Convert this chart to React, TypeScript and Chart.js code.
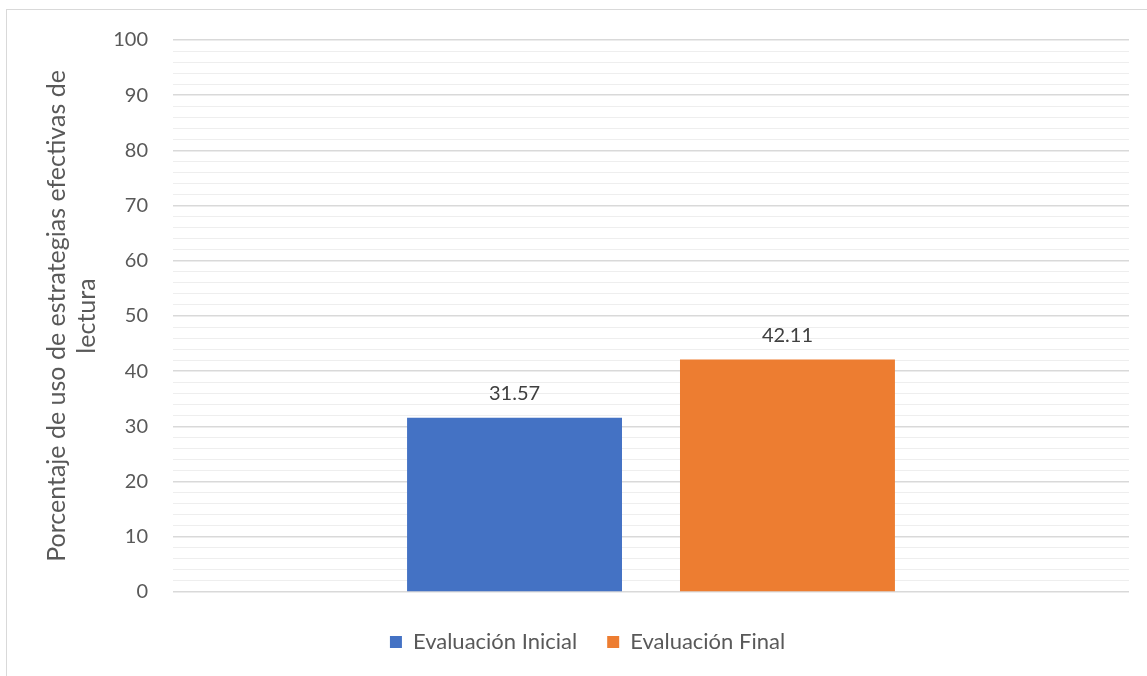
import React, { useEffect, useRef } from "react";
import { Chart, registerables } from "chart.js";

Chart.register(...registerables);

const categories: string[] = [""];
const seriesNames: string[] = ["Evaluación Inicial", "Evaluación Final"];
const inicialValues: number[] = [31.57];
const finalValues: number[] = [42.11];
const seriesColors: string[] = ["#4472C4", "#ED7D31"];
const yTitle: string[] = ["Porcentaje de uso de estrategias efectivas de", "lectura"];
const yMin = 0;
const yMax = 100;
const yMinorStep = 2;
const yMajorStep = 10;

const FONT = "Lato, 'Open Sans', sans-serif";

const dataLabelPlugin = {
  id: "barValueLabels",
  afterDatasetsDraw(chart: any) {
    const ctx = chart.ctx;
    ctx.save();
    ctx.font = `20px ${FONT}`;
    ctx.fillStyle = "#404040";
    ctx.textAlign = "center";
    ctx.textBaseline = "alphabetic";
    chart.data.datasets.forEach((ds: any, i: number) => {
      const meta = chart.getDatasetMeta(i);
      meta.data.forEach((el: any, j: number) => {
        const v = ds.data[j];
        ctx.fillText(v.toFixed(2), el.x, el.y - 18);
      });
    });
    ctx.restore();
  },
};

export default function App() {
  const canvasRef = useRef<HTMLCanvasElement | null>(null);

  useEffect(() => {
    if (!canvasRef.current) return;
    const chart = new Chart(canvasRef.current, {
      type: "bar",
      data: {
        labels: categories,
        datasets: [
          {
            label: seriesNames[0],
            data: inicialValues,
            backgroundColor: seriesColors[0],
            borderWidth: 0,
          },
          {
            label: seriesNames[1],
            data: finalValues,
            backgroundColor: seriesColors[1],
            borderWidth: 0,
          },
        ],
      },
      options: {
        responsive: false,
        animation: false,
        maintainAspectRatio: false,
        datasets: {
          bar: {
            categoryPercentage: 0.571,
            barPercentage: 0.7875,
          },
        },
        layout: {
          padding: { left: 46, right: 18, top: 40, bottom: 13 },
        },
        plugins: {
          tooltip: { enabled: false },
          legend: {
            display: true,
            position: "bottom",
            labels: {
              boxWidth: 12,
              boxHeight: 12,
              padding: 30,
              color: "#595959",
              font: { family: FONT, size: 22 },
            },
          },
        },
        scales: {
          x: {
            type: "category",
            ticks: { display: false },
            grid: { display: false },
            border: { display: false },
            afterFit: (s: any) => {
              s.height = 9;
            },
          },
          y: {
            min: yMin,
            max: yMax,
            ticks: {
              stepSize: yMinorStep,
              autoSkip: false,
              padding: 25,
              color: "#595959",
              font: { family: FONT, size: 20 },
              callback: (v: any) => (Number(v) % yMajorStep === 0 ? String(v) : ""),
            },
            grid: {
              drawTicks: false,
              color: (c: any) =>
                c.tick && c.tick.value % yMajorStep === 0 ? "#d9d9d9" : "#eeeeee",
              lineWidth: (c: any) =>
                c.tick && c.tick.value % yMajorStep === 0 ? 1.5 : 1,
            },
            border: { display: false },
            title: {
              display: true,
              text: yTitle,
              color: "#595959",
              font: { family: FONT, size: 25, lineHeight: 1.2 },
              padding: { top: -4, bottom: 0 },
            },
            afterFit: (s: any) => {
              s.width = 127;
            },
          },
        },
      },
      plugins: [dataLabelPlugin],
    });
    return () => chart.destroy();
  }, []);

  return (
    <div
      style={{
        position: "absolute",
        left: 0,
        top: 0,
        width: 1147,
        height: 676,
        overflow: "hidden",
        background: "#ffffff",
      }}
    >
      <div
        style={{
          position: "absolute",
          left: 6,
          top: 9,
          width: 1200,
          height: 700,
          border: "1px solid #d9d9d9",
          boxSizing: "border-box",
        }}
      />
      <canvas
        ref={canvasRef}
        width={1147}
        height={676}
        style={{ position: "absolute", left: 0, top: 0, width: 1147, height: 676 }}
      />
    </div>
  );
}
